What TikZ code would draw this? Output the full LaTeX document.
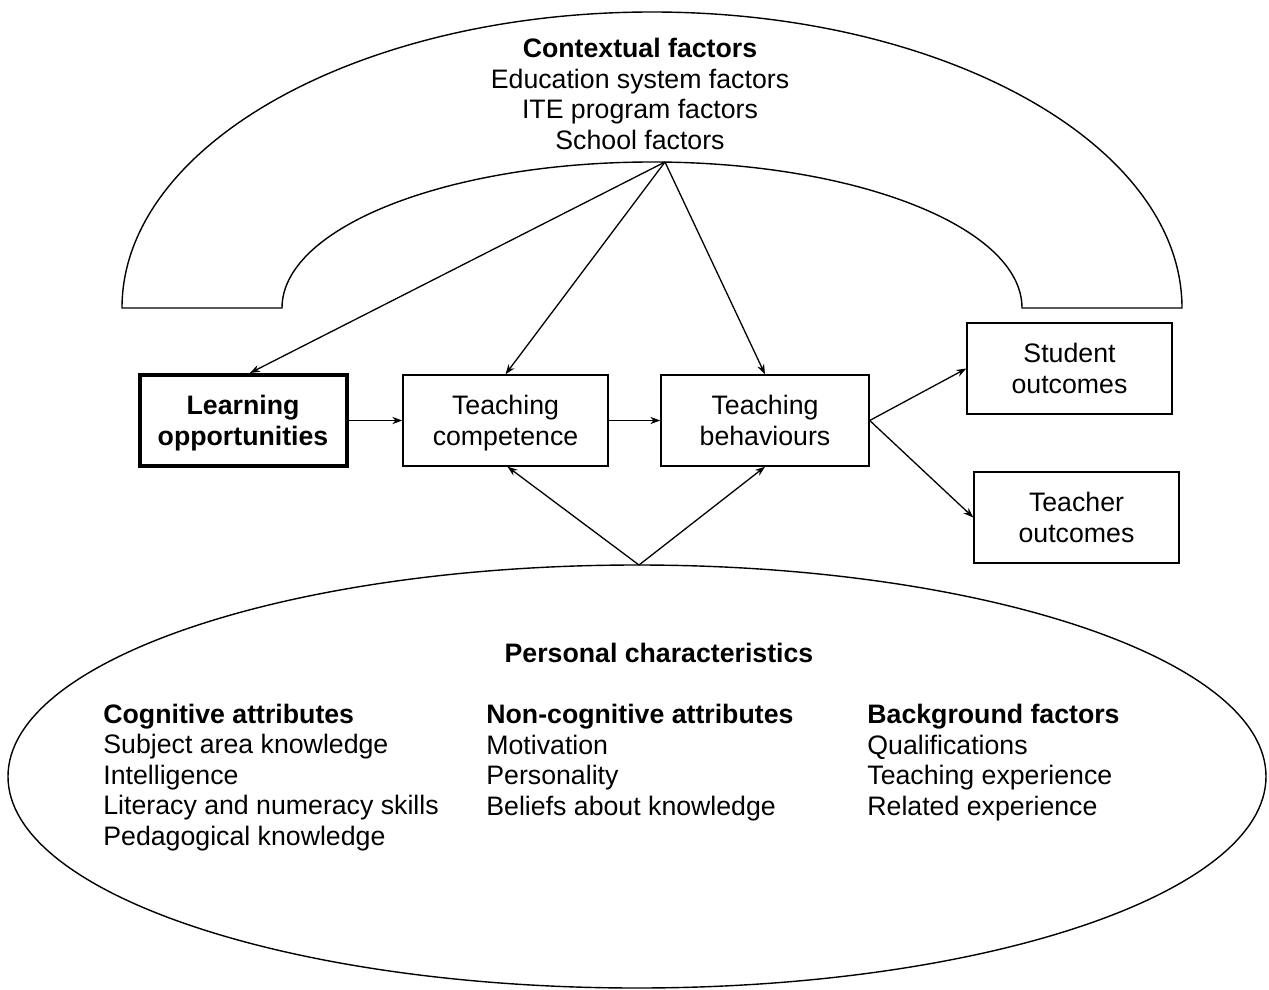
\documentclass[tikz,border=0pt]{standalone}
\usepackage{fontspec}
\setmainfont{Liberation Sans}
\usetikzlibrary{arrows.meta,shapes.geometric,calc}
\newcommand\nodepth[1]{\raisebox{0pt}[\height][0pt]{#1}}
\begin{document}
\begin{tikzpicture}[x=0.5pt,y=-0.5pt,
  every node/.style={font=\fontsize{13.35pt}{15.25pt}\selectfont},
  box/.style={draw,line width=0.7pt,minimum width=102.5pt,minimum height=45.5pt,inner sep=0pt,align=center},
  arr/.style={line width=0.65pt,-{Stealth[length=5pt,width=3.6pt]}},
  ln/.style={line width=0.7pt},
  lbl/.style={inner sep=0pt}]
\useasboundingbox (0,0) rectangle (1269,990);
\fill[white] (0,0) rectangle (1269,990);

% contextual arch
\draw[ln] (122,308) arc[start angle=180,end angle=0,x radius=265pt,y radius=148pt]
  -- (1022,308) arc[start angle=0,end angle=180,x radius=370*0.5pt,y radius=73pt] -- cycle;
\coordinate (ctx) at (665,162);
\node[lbl,align=center,anchor=base] (ctxtext) at (640,149)
  {\textbf{Contextual factors}\\Education system factors\\ITE program factors\\School factors};

% boxes
\node[box,line width=2pt,minimum width=103.5pt,font=\fontsize{13.35pt}{15.25pt}\selectfont\bfseries] (learn) at (243,420.5) {Learning\\\nodepth{opportunities}};
\node[box] (comp) at (505.5,420.5) {Teaching\\\nodepth{competence}};
\node[box,minimum width=104pt] (behav) at (765,420.5) {Teaching\\\nodepth{behaviours}};
\node[box] (student) at (1069.5,368.5) {Student\\\nodepth{outcomes}};
\node[box] (teacher) at (1076.5,517.5) {Teacher\\\nodepth{outcomes}};

% personal characteristics ellipse
\node[draw,ellipse,line width=0.7pt,minimum width=629pt,minimum height=211.5pt,inner sep=0pt] (pers) at (637,776.5) {};
\coordinate (perstop) at (639,565);
\node[lbl,anchor=base,font=\fontsize{13.35pt}{15.25pt}\selectfont\bfseries] (pershead) at (659,662) {Personal characteristics};
\node[lbl,align=left,anchor=base west] (cog) at (103,845)
  {\textbf{Cognitive attributes}\\Subject area knowledge\\Intelligence\\Literacy and numeracy skills\\Pedagogical knowledge};
\node[lbl,align=left,anchor=base west] (noncog) at (486,815)
  {\textbf{Non-cognitive attributes}\\Motivation\\Personality\\Beliefs about knowledge};
\node[lbl,align=left,anchor=base west] (back) at (867,815)
  {\textbf{Background factors}\\Qualifications\\Teaching experience\\Related experience};

% connectors
\draw[arr] (ctx) -- ([xshift=3.5pt]learn.north);
\draw[arr] (ctx) -- (comp.north);
\draw[arr] (ctx) -- (behav.north);
\draw[arr] (learn.east) -- (comp.west);
\draw[arr] (comp.east) -- (behav.west);
\draw[arr] (behav.east) -- (student.west);
\draw[arr] (behav.east) -- (teacher.west);
\draw[arr] (perstop) -- ([xshift=1pt]comp.south);
\draw[arr] (perstop) -- (behav.south);
\end{tikzpicture}
\end{document}
